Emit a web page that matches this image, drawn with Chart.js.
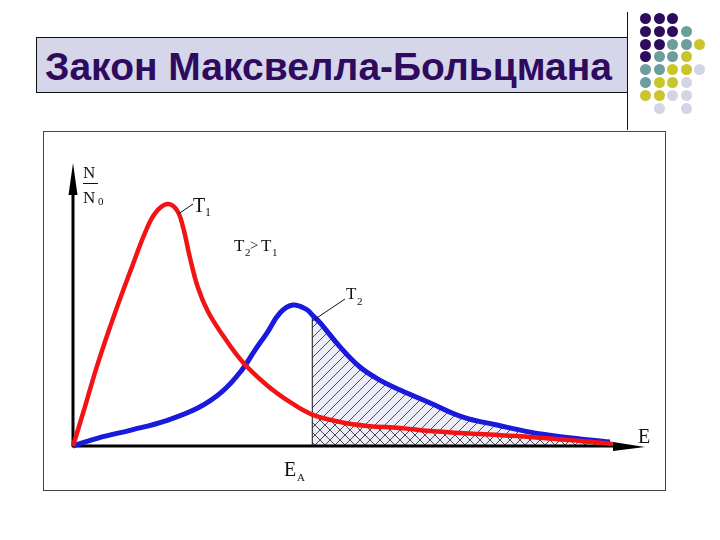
<!DOCTYPE html>
<html>
<head>
<meta charset="utf-8">
<script src="https://cdn.jsdelivr.net/npm/chart.js@4.4.1/dist/chart.umd.min.js"></script>
<style>
    html, body { margin: 0; padding: 0; background: #ffffff; }
    #page { position: relative; width: 720px; height: 540px; overflow: hidden; }
    #titre {
        position: absolute; left: 36px; top: 37px; width: 592px; height: 56px;
        border: 1px solid #111; background: #d6d6ea;
        font-family: "Liberation Sans", Arial, sans-serif; font-weight: bold;
        font-size: 39px; line-height: 58px; color: #2e0b5e;
        padding-left: 8px; box-sizing: border-box; white-space: nowrap;
    }
    #trait { position: absolute; left: 627px; top: 12px; width: 1px; height: 118px; background: #111; }
    #cadre {
        position: absolute; left: 43px; top: 131px; width: 623px; height: 360px;
        border: 1px solid #444; box-sizing: border-box;
    }
    .point { position: absolute; width: 11px; height: 11px; border-radius: 50%; }
    #chart { position: absolute; left: 0; top: 0; }
</style>
</head>
<body>
<div id="page">
    <div id="titre">Закон Максвелла-Больцмана</div>
    <div id="trait"></div>
    <div id="cadre"></div>
    <canvas id="chart" width="720" height="540"></canvas>
</div>
<script>
// ── Données (E et N/N0 en unités relatives 0..100) ──
const energieT1 = [0, 2.1, 4.4, 7.4, 10.4, 12.7, 14.5, 16.6, 18.3, 19.4, 20.6, 22.0, 23.8, 26.3,
                   30.0, 34.2, 38.3, 42.2, 47.1, 51.9, 57.7, 63.0, 71.8, 80.6, 89.4, 95.2];
const nombreT1  = [0, 13.8, 29.3, 47.0, 63.3, 75.3, 82.3, 85.5, 83.4, 77.4, 66.8, 56.2, 47.5, 39.5,
                   29.5, 21.5, 15.5, 11.1, 8.5, 7.1, 6.4, 5.3, 4.2, 3.2, 1.8, 0.7];

const energieT2 = [0, 4.4, 10.4, 16.2, 22.0, 26.3, 29.8, 32.1, 34.2, 36.5, 38.8, 41.3, 42.2, 43.6,
                   47.1, 50.6, 54.1, 57.7, 63.0, 68.8, 74.8, 80.6, 86.4, 94.7];
const nombreT2  = [0, 2.8, 5.7, 8.8, 13.4, 19.2, 26.9, 33.9, 39.9, 47.0, 49.8, 48.1, 46.3, 43.5,
                   35.0, 27.9, 23.3, 19.8, 15.2, 10.2, 7.4, 4.9, 3.2, 1.4];

// Énergie d'activation
const EA = 42.2;

// Petits points décoratifs (coin supérieur droit)
const POINTS = [
    'PPP..',
    'PPPT.',
    'PPTTY',
    'PTTY.',
    'TTYYG',
    'TYYG.',
    'YYGG.',
    '.G.G.'
];
const TEINTES = { P: '#2d0c5e', T: '#6c9e9e', Y: '#c9c52a', G: '#d3d5e5' };

// ── Décor ──
const page = document.getElementById('page');
POINTS.forEach((ligne, r) => {
    [...ligne].forEach((c, k) => {
        if (c === '.') return;
        const d = document.createElement('div');
        d.className = 'point';
        d.style.left = (640 + k * 13.6) + 'px';
        d.style.top = (13 + r * 12.8) + 'px';
        d.style.background = TEINTES[c];
        page.appendChild(d);
    });
});

// ── Motifs de hachures ──
function hachure(sens, fond) {
    const c = document.createElement('canvas');
    c.width = 10; c.height = 10;
    const g = c.getContext('2d');
    if (fond) { g.fillStyle = fond; g.fillRect(0, 0, 10, 10); }
    g.strokeStyle = '#222';
    g.lineWidth = 0.8;
    g.beginPath();
    if (sens === '/') {
        g.moveTo(0, 10); g.lineTo(10, 0);
        g.moveTo(-1, 1); g.lineTo(1, -1);
        g.moveTo(9, 11); g.lineTo(11, 9);
    } else {
        g.moveTo(0, 0); g.lineTo(10, 10);
        g.moveTo(9, -1); g.lineTo(11, 1);
        g.moveTo(-1, 9); g.lineTo(1, 11);
    }
    g.stroke();
    return g.createPattern(c, 'repeat');
}

const pts = (xs, ys) => xs.map((e, i) => ({ x: e, y: ys[i] }));
const courbeT1 = pts(energieT1, nombreT1);
const courbeT2 = pts(energieT2, nombreT2);
const queueT1 = courbeT1.filter(p => p.x >= EA);
const queueT2 = courbeT2.filter(p => p.x >= EA);
const hautEA = nombreT2[energieT2.indexOf(EA)];

// ── Axes, flèches et étiquettes ──
const decor = {
    id: 'decor',
    beforeDatasetsDraw(chart) {
        const { ctx, chartArea: a } = chart;
        ctx.save();
        ctx.strokeStyle = '#000';
        ctx.fillStyle = '#000';
        ctx.lineWidth = 3;
        ctx.beginPath();
        ctx.moveTo(a.left, a.bottom + 1);
        ctx.lineTo(a.left, a.top + 25);
        ctx.moveTo(a.left - 1, a.bottom);
        ctx.lineTo(a.right - 20, a.bottom);
        ctx.stroke();
        // flèche verticale
        ctx.beginPath();
        ctx.moveTo(a.left, a.top);
        ctx.lineTo(a.left + 4.5, a.top + 32);
        ctx.lineTo(a.left - 4.5, a.top + 32);
        ctx.closePath();
        ctx.fill();
        // flèche horizontale
        ctx.beginPath();
        ctx.moveTo(a.right + 5, a.bottom + 1);
        ctx.lineTo(a.right - 27, a.bottom - 4);
        ctx.lineTo(a.right - 27, a.bottom + 5);
        ctx.closePath();
        ctx.fill();
        ctx.restore();
    },
    afterDraw(chart) {
        const { ctx } = chart;
        const X = v => chart.scales.x.getPixelForValue(v);
        const Y = v => chart.scales.y.getPixelForValue(v);
        const serif = s => s + 'px "Liberation Serif", "Times New Roman", serif';
        const texte = (t, x, y, taille) => { ctx.font = serif(taille); ctx.fillText(t, x, y); };
        ctx.save();
        ctx.fillStyle = '#111';
        ctx.strokeStyle = '#111';
        ctx.textBaseline = 'alphabetic';

        // N / N0
        texte('N', 83, 178, 17);
        ctx.lineWidth = 1;
        ctx.beginPath(); ctx.moveTo(83, 183.5); ctx.lineTo(98, 183.5); ctx.stroke();
        texte('N', 83, 203, 17);
        texte('0', 98, 205, 11);

        // T1
        texte('T', 193, 212, 20);
        texte('1', 205, 216, 12);
        ctx.beginPath(); ctx.moveTo(X(18.6), Y(82)); ctx.lineTo(193, 204); ctx.stroke();

        // T2 > T1
        texte('T', 234, 251, 17);
        texte('2', 245, 256, 11);
        texte('>', 250, 250, 15);
        texte('T', 261, 251, 17);
        texte('1', 272, 256, 11);

        // T2
        texte('T', 346, 299, 17);
        texte('2', 357, 305, 11);
        ctx.beginPath(); ctx.moveTo(X(EA), Y(hautEA) + 6); ctx.lineTo(345, 299); ctx.stroke();

        // E et EA
        texte('E', 638, 443, 20);
        texte('E', 284, 476, 20);
        texte('A', 297, 481, 11);
        ctx.restore();
    }
};

new Chart(document.getElementById('chart'), {
    type: 'line',
    data: {
        datasets: [
            {
                data: courbeT1,
                borderColor: '#f21414',
                borderWidth: 4.5,
                fill: false,
                order: 1
            },
            {
                data: courbeT2,
                borderColor: '#1a1adc',
                borderWidth: 5,
                fill: false,
                order: 2
            },
            {
                data: queueT1,
                borderWidth: 0,
                backgroundColor: hachure('\\', null),
                fill: 'origin',
                order: 3
            },
            {
                data: queueT2,
                borderWidth: 0,
                backgroundColor: hachure('/', '#ececf6'),
                fill: 'origin',
                order: 4
            },
            {
                data: [{ x: EA, y: 0 }, { x: EA, y: hautEA }],
                borderColor: '#111',
                borderWidth: 1,
                tension: 0,
                fill: false,
                order: 5
            }
        ]
    },
    options: {
        responsive: false,
        animation: false,
        layout: { padding: { left: 73, right: 80, top: 163, bottom: 94 } },
        elements: {
            point: { radius: 0 },
            line: { tension: 0.4, capBezierPoints: false }
        },
        datasets: { line: { clip: 10 } },
        scales: {
            x: { type: 'linear', min: 0, max: 100, display: false },
            y: { type: 'linear', min: 0, max: 100, display: false }
        },
        plugins: {
            legend: { display: false },
            tooltip: { enabled: false },
            filler: { drawTime: 'beforeDatasetsDraw' }
        }
    },
    plugins: [decor]
});
</script>
</body>
</html>
